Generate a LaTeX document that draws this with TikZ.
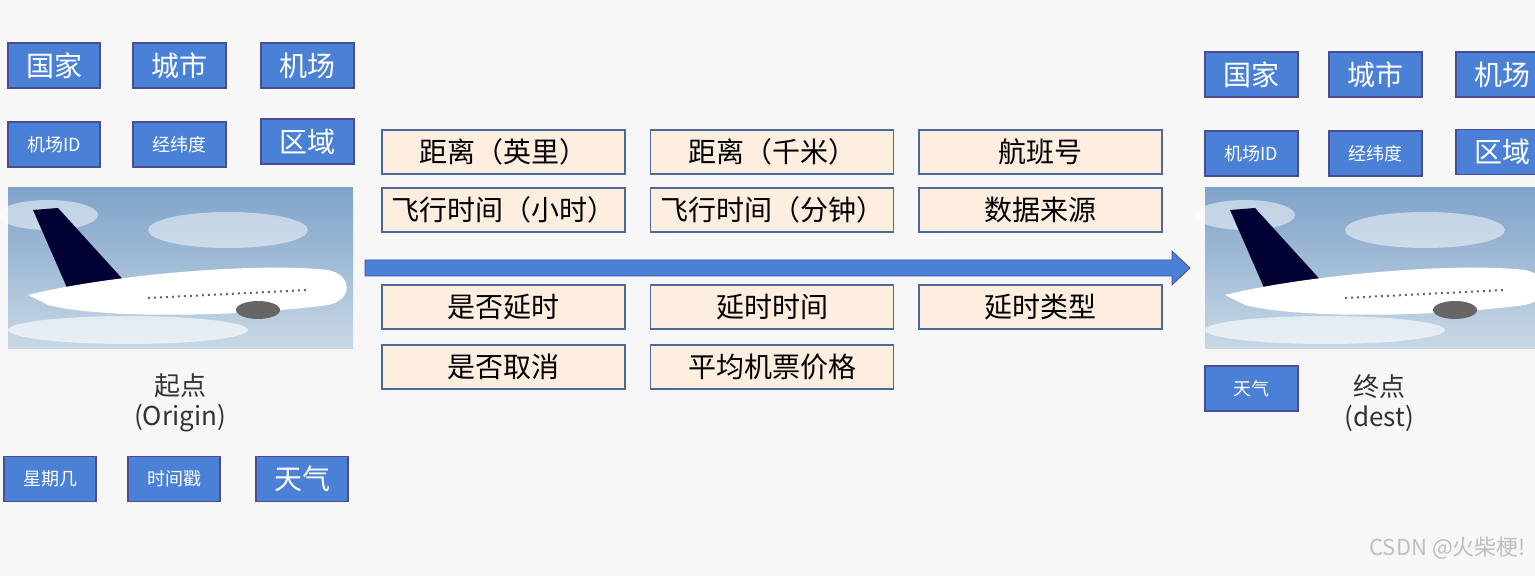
\documentclass[tikz,border=0pt]{standalone}
\usepackage{fontspec}
\setmainfont{Noto Sans CJK SC}
\begin{document}
\begin{tikzpicture}[x=0.5pt,y=-0.5pt,
 bb/.style={draw=blue!40!black!70,line width=0.6pt,fill=bfill,text=white,inner sep=0pt},
 ob/.style={draw=obord,line width=0.7pt,fill=ofill,text=black,inner sep=0pt,minimum width=121.5pt,minimum height=22pt,font=\fontsize{14}{16}\selectfont},
 lbl/.style={align=center,font=\fontsize{13}{15}\selectfont,text=black!80}]
\definecolor{bfill}{HTML}{4A80D6}
\definecolor{ofill}{HTML}{FDEEDF}
\definecolor{obord}{HTML}{4A6A9A}
\definecolor{sky1}{HTML}{7FA3C9}
\definecolor{sky2}{HTML}{C9D8E6}
\useasboundingbox (0,0) rectangle (1535,576);
\fill[black!3] (0,0) rectangle (1535,576);
\newcommand{\bbox}[5]{\node[bb,minimum width=#3*0.5pt,minimum height=45*0.5pt,font=\fontsize{#5}{#5}\selectfont] (#1) at (#2) {#4};}
% left
\bbox{lc}{54,65.5}{92}{国家}{14}
\bbox{lcity}{179.5,65.5}{93}{城市}{14}
\bbox{lap}{307.5,65.5}{93}{机场}{14}
\bbox{lid}{54,144.5}{92}{机场ID}{9}
\bbox{lll}{179.5,144.5}{93}{经纬度}{9}
\bbox{lreg}{307.5,141.5}{93}{区域}{14}
\bbox{lwk}{50,479}{92}{星期几}{9}
\bbox{lts}{174,479}{92}{时间戳}{9}
\bbox{lwx}{302,479}{92}{天气}{14}
% planes
\newcommand{\plane}[2]{%
 \shade[top color=sky1,bottom color=sky2] (#1,188) rectangle (#1+#2,349);
 \fill[white,opacity=0.5] (#1+40,215) ellipse (50 and 15);
 \fill[white,opacity=0.5] (#1+220,230) ellipse (80 and 18);
 \fill[white,opacity=0.6] (#1+120,330) ellipse (120 and 14);
 \fill[black!80!blue] (#1+25,210) -- (#1+50,208) -- (#1+120,285) -- (#1+60,290) -- cycle;
 \fill[white] (#1+20,295) .. controls (#1+100,275) and (#1+250,262) .. (#1+320,270) .. controls (#1+345,275) and (#1+345,300) .. (#1+320,305) .. controls (#1+220,318) and (#1+90,318) .. (#1+40,305) -- cycle;
 \fill[black!60] (#1+250,310) ellipse (22 and 9);
 \draw[black!60,dotted,line width=1pt] (#1+140,298) -- (#1+300,290);
}
\plane{8}{345}
\plane{1205}{330}
\node[lbl] (orig) at (180,403) {起点\\(Origin)};
% middle
\node[ob] (m1) at (503.5,152) {距离（英里）};
\node[ob] (m2) at (772,152) {距离（千米）};
\node[ob] (m3) at (1040.5,152) {航班号};
\node[ob] (m4) at (503.5,210) {飞行时间（小时）};
\node[ob] (m5) at (772,210) {飞行时间（分钟）};
\node[ob] (m6) at (1040.5,210) {数据来源};
\node[ob] (m7) at (503.5,307) {是否延时};
\node[ob] (m8) at (772,307) {延时时间};
\node[ob] (m9) at (1040.5,307) {延时类型};
\node[ob] (m10) at (503.5,367) {是否取消};
\node[ob] (m11) at (772,367) {平均机票价格};
\coordinate (as) at (365,268);
\coordinate (ae) at (1190,268);
\fill[bfill,draw=blue!40!black!70,line width=0.4pt] (365,260) -- (1172,260) -- (1172,251) -- (1190,268) -- (1172,285) -- (1172,276) -- (365,276) -- cycle;
% right
\bbox{rc}{1251.5,74.5}{93}{国家}{14}
\bbox{rcity}{1375.5,74.5}{93}{城市}{14}
\bbox{rap}{1502.5,74.5}{93}{机场}{14}
\bbox{rid}{1251.5,153.5}{93}{机场ID}{9}
\bbox{rll}{1375.5,153.5}{93}{经纬度}{9}
\bbox{rreg}{1502.5,152}{93}{区域}{14}
\bbox{rwx}{1251.5,388.5}{93}{天气}{9}
\node[lbl] (dest) at (1379,403) {终点\\(dest)};
\node[text=black!25,font=\fontsize{11}{13}\selectfont,anchor=east] (wm) at (1533,548) {CSDN @火柴梗!};
\fill[black!3] (1535,0) rectangle (1600,576);
\end{tikzpicture}
\end{document}
